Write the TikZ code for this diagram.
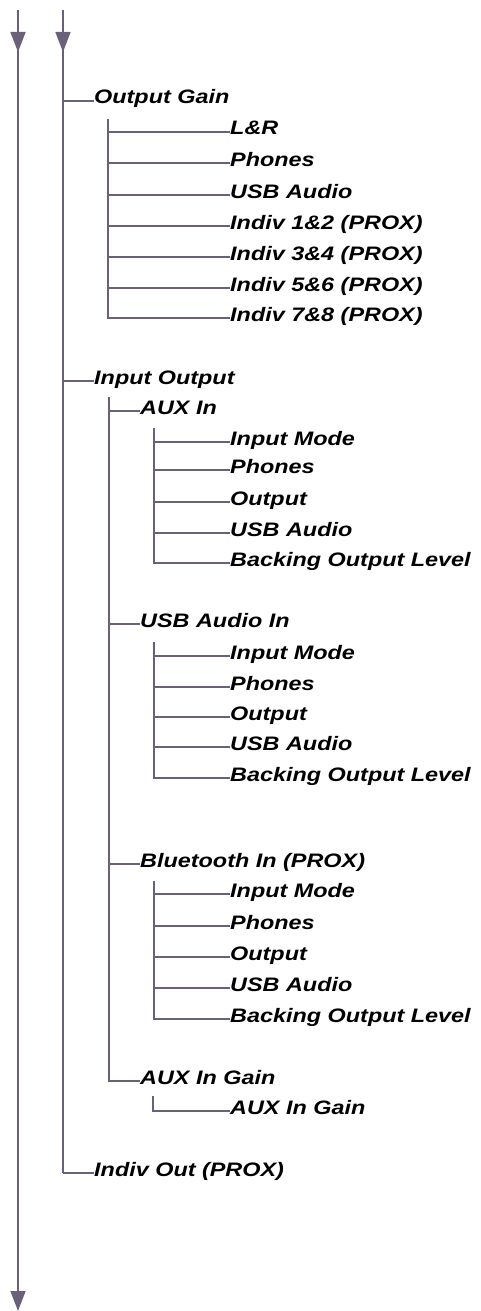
\documentclass[tikz,border=0pt]{standalone}
\usepackage{fontspec}
\setmainfont{Liberation Sans}[FakeStretch=1.2]
\usetikzlibrary{arrows.meta}
\definecolor{menuline}{RGB}{107,96,122}

\begin{document}
\begin{tikzpicture}[
  x=1pt,y=-1pt,
  spine/.style={draw=menuline,line width=1.6pt},
  flow/.style={spine,-{Triangle[length=20pt,width=15pt]}},
  wire/.style={draw=menuline,line width=1.1pt},
  item/.style={anchor=west,inner sep=0pt,text height=14pt,text depth=8pt,font=\fontsize{19.5}{22}\selectfont\bfseries\itshape}
]
\useasboundingbox (0,0) rectangle (480,1311);

% two spines with their arrows
\coordinate (s0top) at (18,10);
\coordinate (s0tip) at (18,52);
\coordinate (s0end) at (18,1311);
\coordinate (s1top) at (63,10);
\coordinate (s1tip) at (63,52);
\draw[flow] (s0top) -- (s0tip);
\draw[flow] (s0top) -- (s0end);
\draw[flow] (s1top) -- (s1tip);

% first level
\node[item] (outgain) at (94,101) {Output Gain};
\node[item] (inout) at (94,381) {Input Output};
\node[item] (indivout) at (94,1173) {Indiv Out (PROX)};
\draw[spine] (s1top) -- (s1top |- indivout.west);
\draw[wire] (s1top |- outgain.west) -- (outgain.west);
\draw[wire] (s1top |- inout.west) -- (inout.west);
\draw[wire] (s1top |- indivout.west) -- (indivout.west);

% Output Gain
\coordinate (ogv) at (108,119);
\node[item] (og1) at (230,132) {L\&R};
\node[item] (og2) at (230,163) {Phones};
\node[item] (og3) at (230,195) {USB Audio};
\node[item] (og4) at (230,226) {Indiv 1\&2 (PROX)};
\node[item] (og5) at (230,257) {Indiv 3\&4 (PROX)};
\node[item] (og6) at (230,288) {Indiv 5\&6 (PROX)};
\node[item] (og7) at (230,318) {Indiv 7\&8 (PROX)};
\draw[wire] (ogv) |- (og7.west);
\draw[wire] (ogv |- og1.west) -- (og1.west);
\draw[wire] (ogv |- og2.west) -- (og2.west);
\draw[wire] (ogv |- og3.west) -- (og3.west);
\draw[wire] (ogv |- og4.west) -- (og4.west);
\draw[wire] (ogv |- og5.west) -- (og5.west);
\draw[wire] (ogv |- og6.west) -- (og6.west);

% Input Output, second level
\coordinate (iov) at (109,397);
\node[item] (auxin) at (140,411) {AUX In};
\node[item] (usbin) at (140,624) {USB Audio In};
\node[item] (btin) at (140,864) {Bluetooth In (PROX)};
\node[item] (auxgain) at (140,1081) {AUX In Gain};
\draw[wire] (iov) |- (auxgain.west);
\draw[wire] (iov |- auxin.west) -- (auxin.west);
\draw[wire] (iov |- usbin.west) -- (usbin.west);
\draw[wire] (iov |- btin.west) -- (btin.west);

% AUX In
\coordinate (auxv) at (154,428);
\node[item] (auxmode) at (230,442) {Input Mode};
\node[item] (auxphones) at (230,470) {Phones};
\node[item] (auxout) at (230,502) {Output};
\node[item] (auxusb) at (230,533) {USB Audio};
\node[item] (auxback) at (230,563) {Backing Output Level};
\draw[wire] (auxv) |- (auxback.west);
\draw[wire] (auxv |- auxmode.west) -- (auxmode.west);
\draw[wire] (auxv |- auxphones.west) -- (auxphones.west);
\draw[wire] (auxv |- auxout.west) -- (auxout.west);
\draw[wire] (auxv |- auxusb.west) -- (auxusb.west);

% USB Audio In
\coordinate (usbv) at (154,642);
\node[item] (usbmode) at (230,656) {Input Mode};
\node[item] (usbphones) at (230,687) {Phones};
\node[item] (usbout) at (230,717) {Output};
\node[item] (usbusb) at (230,747) {USB Audio};
\node[item] (usbback) at (230,778) {Backing Output Level};
\draw[wire] (usbv) |- (usbback.west);
\draw[wire] (usbv |- usbmode.west) -- (usbmode.west);
\draw[wire] (usbv |- usbphones.west) -- (usbphones.west);
\draw[wire] (usbv |- usbout.west) -- (usbout.west);
\draw[wire] (usbv |- usbusb.west) -- (usbusb.west);

% Bluetooth In
\coordinate (btv) at (154,881);
\node[item] (btmode) at (230,894) {Input Mode};
\node[item] (btphones) at (230,926) {Phones};
\node[item] (btout) at (230,957) {Output};
\node[item] (btusb) at (230,988) {USB Audio};
\node[item] (btback) at (230,1019) {Backing Output Level};
\draw[wire] (btv) |- (btback.west);
\draw[wire] (btv |- btmode.west) -- (btmode.west);
\draw[wire] (btv |- btphones.west) -- (btphones.west);
\draw[wire] (btv |- btout.west) -- (btout.west);
\draw[wire] (btv |- btusb.west) -- (btusb.west);

% AUX In Gain
\coordinate (gainv) at (153,1096);
\node[item] (gainval) at (230,1111) {AUX In Gain};
\draw[wire] (gainv) |- (gainval.west);
\end{tikzpicture}
\end{document}
